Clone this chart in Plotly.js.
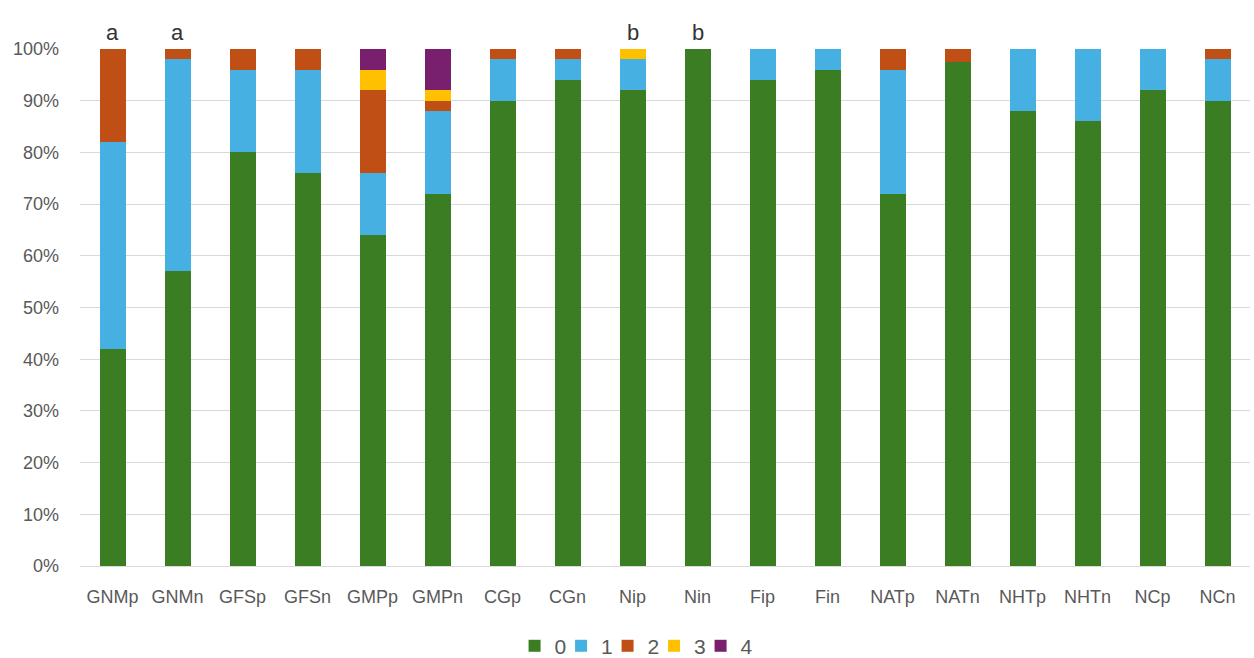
<!DOCTYPE html>
<html>
<head>
<meta charset="utf-8">
<script src="https://cdn.plot.ly/plotly-3.0.1.min.js"></script>
<style>html,body{margin:0;padding:0;background:#fff;}#chart{width:1254px;height:658px;}</style>
</head>
<body>
<div id="chart"></div>
<script>
// Categories (x axis)
const categories = ['GNMp','GNMn','GFSp','GFSn','GMPp','GMPn','CGp','CGn','Nip','Nin','Fip','Fin','NATp','NATn','NHTp','NHTn','NCp','NCn'];
// Series values, percent of each bar
const score0 = [42, 57, 80, 76, 64, 72, 90, 94, 92, 100, 94, 96, 72, 97.5, 88, 86, 92, 90];
const score1 = [40, 41, 16, 20, 12, 16,  8,  4,  6,   0,  6,  4, 24,  0,   12, 14,  8,  8];
const score2 = [18,  2,  4,  4, 16,  2,  2,  2,  0,   0,  0,  0,  4,  2.5,  0,  0,  0,  2];
const score3 = [ 0,  0,  0,  0,  4,  2,  0,  0,  2,   0,  0,  0,  0,  0,    0,  0,  0,  0];
const score4 = [ 0,  0,  0,  0,  4,  8,  0,  0,  0,   0,  0,  0,  0,  0,    0,  0,  0,  0];
const seriesNames = ['0','1','2','3','4'];
// Significance letters above bars
const letterCats = ['GNMp','GNMn','Nip','Nin'];
const letterText = ['a','a','b','b'];

const colors = ['#3A7D22','#45B0E1','#C04F15','#FFC000','#78206E'];
const allSeries = [score0, score1, score2, score3, score4];

const traces = allSeries.map((vals, i) => ({
  type: 'bar',
  name: seriesNames[i],
  x: categories,
  y: vals,
  marker: {color: colors[i], line: {width: 0}},
  hoverinfo: 'x+y+name'
}));

const annotations = letterCats.map((c, i) => ({
  x: c, y: 100, xref: 'x', yref: 'y',
  text: letterText[i], showarrow: false,
  yanchor: 'bottom', yshift: 2,
  font: {family: 'Liberation Sans, Arial, sans-serif', size: 22, color: '#333333'}
}));

const tickFont = {family: 'Liberation Sans, Arial, sans-serif', size: 18, color: '#595959'};

const layout = {
  width: 1254, height: 658,
  margin: {l: 80, r: 4, t: 49, b: 92, pad: 0, autoexpand: false},
  paper_bgcolor: '#ffffff', plot_bgcolor: '#ffffff',
  barmode: 'stack',
  bargap: 0.6,
  showlegend: true,
  legend: {
    orientation: 'h', x: 0.471, xanchor: 'center',
    y: -0.155, yanchor: 'middle',
    font: {family: 'Liberation Sans, Arial, sans-serif', size: 21, color: '#595959'},
    itemwidth: 30, entrywidth: 1.5, entrywidthmode: 'pixels', traceorder: 'normal',
    borderwidth: 0, bgcolor: 'rgba(0,0,0,0)'
  },
  xaxis: {
    type: 'category', tickfont: tickFont, showgrid: false, tickangle: 0,
    showline: true, linecolor: '#d9d9d9', linewidth: 1,
    ticks: '', ticklabelstandoff: 14, zeroline: false, automargin: false
  },
  yaxis: {
    range: [0, 100], dtick: 10, ticksuffix: '%', tickfont: tickFont,
    showgrid: true, gridcolor: '#d9d9d9', gridwidth: 1,
    zeroline: false, showline: false, ticks: '', ticklabelstandoff: 20, automargin: false
  },
  annotations: annotations
};

Plotly.newPlot('chart', traces, layout, {displayModeBar: false, staticPlot: true}).then(gd => {
  // let the last legend label overflow the legend clip box instead of being cut
  const clip = gd.querySelector('.legend .scrollbox');
  if (clip) clip.removeAttribute('clip-path');
  gd.querySelectorAll('.legend clipPath rect, .legendclip rect').forEach(r => r.setAttribute('width', 400));
});
</script>
</body>
</html>
